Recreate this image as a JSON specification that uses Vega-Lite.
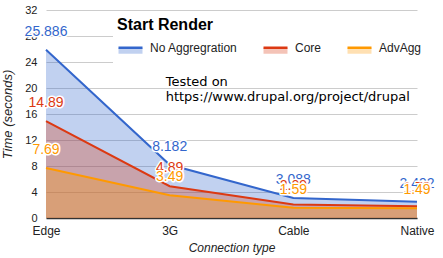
{
  "$schema": "https://vega.github.io/schema/vega-lite/v6.json",
  "width": 371,
  "height": 208,
  "autosize": {"type": "none"},
  "padding": {"left": 46, "top": 10, "right": 26, "bottom": 40},
  "background": "white",
  "config": {
    "font": "Liberation Sans",
    "view": {"stroke": null},
    "axisX": {
      "titleFontStyle": "italic",
      "titleFontWeight": "normal",
      "titleFontSize": 12,
      "titleColor": "#222",
      "titlePadding": 6,
      "labelFontSize": 12,
      "labelColor": "#222",
      "labelPadding": 7,
      "labelAngle": 0,
      "ticks": false,
      "grid": false,
      "domainColor": "#333",
      "domainWidth": 1.5
    },
    "axisY": {
      "titleFontStyle": "italic",
      "titleFontWeight": "normal",
      "titleFontSize": 13,
      "titleColor": "#222",
      "titlePadding": 10,
      "labelFontSize": 11,
      "labelColor": "#222",
      "labelPadding": 9,
      "ticks": false,
      "domain": false,
      "gridColor": "#cccccc",
      "gridWidth": 1
    }
  },
  "datasets": {
    "main": [
      {"conn": "Edge", "series": "No Aggregration", "t": 25.886},
      {"conn": "3G", "series": "No Aggregration", "t": 8.182},
      {"conn": "Cable", "series": "No Aggregration", "t": 3.088},
      {"conn": "Native", "series": "No Aggregration", "t": 2.492},
      {"conn": "Edge", "series": "Core", "t": 14.89},
      {"conn": "3G", "series": "Core", "t": 4.89},
      {"conn": "Cable", "series": "Core", "t": 2.09},
      {"conn": "Native", "series": "Core", "t": 1.79},
      {"conn": "Edge", "series": "AdvAgg", "t": 7.69},
      {"conn": "3G", "series": "AdvAgg", "t": 3.49},
      {"conn": "Cable", "series": "AdvAgg", "t": 1.59},
      {"conn": "Native", "series": "AdvAgg", "t": 1.49}
    ],
    "note": [
      {"line": "Tested on\nhttps://www.drupal.org/project/drupal"}
    ]
  },
  "layer": [
    {
      "data": {"name": "main"},
      "encoding": {
        "x": {
          "field": "conn",
          "type": "ordinal",
          "sort": ["Edge", "3G", "Cable", "Native"],
          "scale": {"type": "point", "padding": 0, "domain": ["Edge", "3G", "Cable", "Native"]},
          "axis": {"title": "Connection type"}
        },
        "y": {
          "field": "t",
          "type": "quantitative",
          "stack": null,
          "scale": {"domain": [0, 32], "nice": false},
          "axis": {"values": [0, 4, 8, 12, 16, 20, 24, 28, 32], "title": "Time (seconds)"}
        }
      },
      "layer": [
        {
          "mark": {"type": "area", "fillOpacity": 0.3, "interpolate": "linear"},
          "encoding": {
            "color": {
              "field": "series",
              "type": "nominal",
              "sort": ["No Aggregration", "Core", "AdvAgg"],
              "scale": {"domain": ["No Aggregration", "Core", "AdvAgg"], "range": ["#3366cc", "#dc3912", "#ff9900"]},
              "legend": {
                "orient": "none",
                "legendX": 67,
                "legendY": 3,
                "direction": "horizontal",
                "title": "Start Render",
                "titleFontSize": 16,
                "titleFontWeight": "bold",
                "titleColor": "#000",
                "titleAnchor": "start",
                "titlePadding": 1,
                "labelFontSize": 12,
                "labelColor": "#222",
                "labelOffset": 6,
                "columnPadding": 20,
                "padding": 4,
                "fillColor": "white",
                "symbolType": "M-1,0H1V0.5H-1Z",
                "symbolSize": 576,
                "symbolStrokeWidth": 2.5,
                "symbolOpacity": 1,
                "encode": {
                  "symbols": {
                    "update": {
                      "fill": {"scale": "color", "field": "value"},
                      "fillOpacity": {"value": 0.3},
                      "stroke": {"scale": "color", "field": "value"},
                      "strokeOpacity": {"value": 1},
                      "strokeWidth": {"value": 2.5},
                      "strokeDash": {"value": [24, 200]}
                    }
                  }
                }
              }
            }
          }
        },
        {
          "mark": {"type": "line", "strokeWidth": 2},
          "encoding": {
            "color": {"field": "series", "type": "nominal", "legend": null}
          }
        },
        {
          "transform": [{"filter": "datum.series == 'No Aggregration'"}],
          "mark": {"type": "text", "fontSize": 14, "dy": -18, "baseline": "middle", "align": "center", "fill": "white", "stroke": "white", "strokeWidth": 3, "strokeJoin": "round"},
          "encoding": {"text": {"field": "t", "type": "quantitative"}}
        },
        {
          "transform": [{"filter": "datum.series == 'No Aggregration'"}],
          "mark": {"type": "text", "fontSize": 14, "dy": -18, "baseline": "middle", "align": "center"},
          "encoding": {"text": {"field": "t", "type": "quantitative"}, "color": {"field": "series", "type": "nominal", "legend": null}}
        },
        {
          "transform": [{"filter": "datum.series == 'Core'"}],
          "mark": {"type": "text", "fontSize": 14, "dy": -18, "baseline": "middle", "align": "center", "fill": "white", "stroke": "white", "strokeWidth": 3, "strokeJoin": "round"},
          "encoding": {"text": {"field": "t", "type": "quantitative"}}
        },
        {
          "transform": [{"filter": "datum.series == 'Core'"}],
          "mark": {"type": "text", "fontSize": 14, "dy": -18, "baseline": "middle", "align": "center"},
          "encoding": {"text": {"field": "t", "type": "quantitative"}, "color": {"field": "series", "type": "nominal", "legend": null}}
        },
        {
          "transform": [{"filter": "datum.series == 'AdvAgg'"}],
          "mark": {"type": "text", "fontSize": 14, "dy": -18, "baseline": "middle", "align": "center", "fill": "white", "stroke": "white", "strokeWidth": 3, "strokeJoin": "round"},
          "encoding": {"text": {"field": "t", "type": "quantitative"}}
        },
        {
          "transform": [{"filter": "datum.series == 'AdvAgg'"}],
          "mark": {"type": "text", "fontSize": 14, "dy": -18, "baseline": "middle", "align": "center"},
          "encoding": {"text": {"field": "t", "type": "quantitative"}, "color": {"field": "series", "type": "nominal", "legend": null}}
        }
      ]
    },
    {
      "data": {"name": "note"},
      "mark": {"type": "text", "font": "DejaVu Sans", "fontSize": 13, "align": "left", "baseline": "alphabetic", "lineBreak": "\n", "lineHeight": 15, "dx": -4, "fill": "#000"},
      "encoding": {
        "x": {"datum": "3G", "axis": {"title": "Connection type"}},
        "y": {"datum": 20.3, "axis": {"values": [0, 4, 8, 12, 16, 20, 24, 28, 32], "title": "Time (seconds)"}},
        "text": {"field": "line"}
      }
    }
  ]
}
